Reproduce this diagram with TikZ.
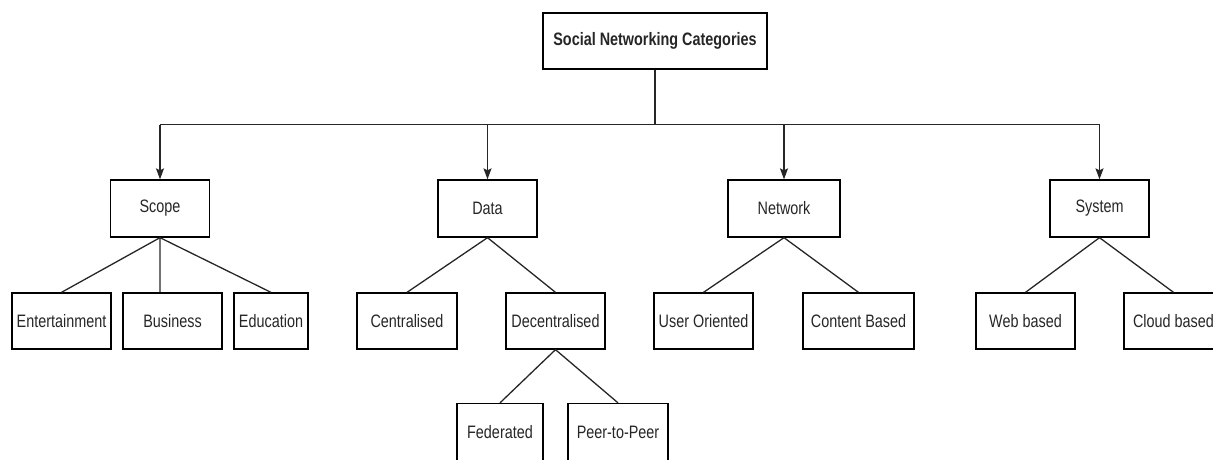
\documentclass[tikz,border=0pt]{standalone}
\usepackage{fontspec}
\setmainfont[FakeStretch=0.8]{Liberation Sans}
\usetikzlibrary{arrows.meta, positioning}
\tikzset{
x=1pt, y=-1pt, % one unit is one pixel of the layout, y runs downwards
every node/.style={font=\fontsize{18}{21}\selectfont, text=black!85}, % sets the text of each node
catbox/.style={draw, line width=1.3pt, minimum height=57pt, inner sep=1pt}, % sets the properties for each box
link/.style={line width=1.3pt, black!85}, % plain connectors
down/.style={line width=1.3pt, black!85, -{Stealth[length=11pt, width=8pt, inset=2pt]}}, % arrows below the bus line
}
\begin{document}
\begin{tikzpicture}
        \useasboundingbox (0,0) rectangle (1213,459);
        \node[catbox, minimum width=224pt, minimum height=56pt, font=\fontsize{18}{21}\selectfont\bfseries] (root) at (655,41) {Social Networking Categories};
        \coordinate (bus) at (655,124.5);
        \node[catbox, minimum width=99pt] (scope) at (160,208.5) {Scope};
        \node[catbox, minimum width=99pt] (data) at (487.5,208.5) {Data};
        \node[catbox, minimum width=112pt] (network) at (784,208.5) {Network};
        \node[catbox, minimum width=99pt] (system) at (1099.5,208.5) {System};
        \node[catbox, minimum width=99pt, minimum height=56pt] (entertainment) at (61.5,321) {Entertainment};
        \node[catbox, minimum width=99pt, minimum height=56pt] (business) at (172.5,321) {Business};
        \node[catbox, minimum width=74pt, minimum height=56pt] (education) at (271,321) {Education};
        \node[catbox, minimum width=100pt, minimum height=56pt] (central) at (407,321) {Centralised};
        \node[catbox, minimum width=99pt, minimum height=56pt] (decentral) at (555.5,321) {Decentralised};
        \node[catbox, minimum width=99pt, minimum height=56pt] (user) at (703.5,321) {User Oriented};
        \node[catbox, minimum width=111pt, minimum height=56pt] (content) at (858.5,321) {Content Based};
        \node[catbox, minimum width=99pt, minimum height=56pt] (web) at (1025.5,321) {Web based};
        \node[catbox, minimum width=99pt, minimum height=56pt] (cloud) at (1173.5,321) {Cloud based};
        \node[catbox, minimum width=86pt] (federated) at (500,432) {Federated};
        \node[catbox, minimum width=100pt] (p2p) at (618,432) {Peer-to-Peer};
        \draw[link] (root) -- (bus)
        (scope |- bus) -- (system |- bus);
        \draw[down] (scope |- bus) -- (scope);
        \draw[down] (data |- bus) -- (data);
        \draw[down] (network |- bus) -- (network);
        \draw[down] (system |- bus) -- (system);
        \draw[link] (scope.south) -- (entertainment.north)
        (scope.south) -- (scope.south |- business.north)
        (scope.south) -- (education.north)
        (data.south) -- (central.north)
        (data.south) -- (decentral.north)
        (decentral.south) -- (federated.north)
        (decentral.south) -- (p2p.north)
        (network.south) -- (user.north)
        (network.south) -- (content.north)
        (system.south) -- (web.north)
        (system.south) -- (cloud.north)
        ;\end{tikzpicture}
\end{document}
